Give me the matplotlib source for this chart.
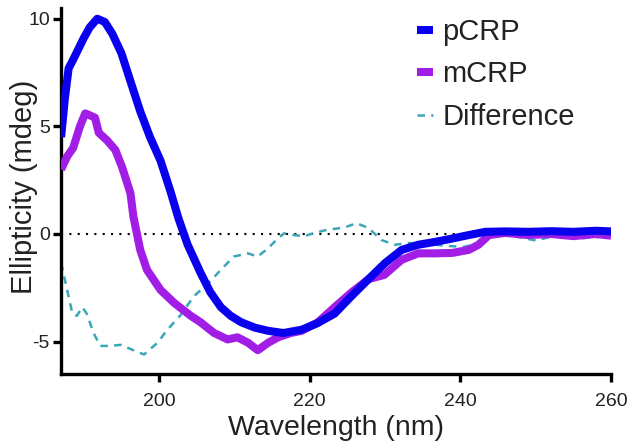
import matplotlib
matplotlib.use("Agg")
import matplotlib.pyplot as plt

plt.rcParams['font.family'] = ['Liberation Sans', 'DejaVu Sans']

# pCRP spectrum
pcrp_wl = [187, 187.5, 188, 188.6, 189.3, 190, 190.8, 191.8, 192.8, 193.8, 195, 196.2,
           197.5, 198.8, 200.2, 201.5, 202.6, 203.8, 205.5, 206.8, 208.2, 209.5, 210.9,
           212.7, 214.5, 216.5, 218.9, 221, 223.3, 225.5, 227.8, 230, 232.2, 234.4,
           236.6, 238.8, 241.1, 243.3, 246, 249, 252, 255, 258, 260]
pcrp_val = [4.5, 6.3, 7.7, 8.1, 8.6, 9.1, 9.6, 10.0, 9.85, 9.3, 8.4, 7.1,
            5.7, 4.5, 3.4, 2.0, 0.7, -0.5, -1.8, -2.7, -3.4, -3.8, -4.1,
            -4.35, -4.5, -4.6, -4.45, -4.15, -3.7, -2.9, -2.1, -1.35, -0.74, -0.5,
            -0.37, -0.22, -0.05, 0.1, 0.12, 0.1, 0.13, 0.1, 0.15, 0.12]

# mCRP spectrum
mcrp_wl = [187, 187.8, 188.6, 189.5, 190.2, 190.9, 191.5, 192, 193.1, 194.2, 195.1,
           196.2, 196.6, 197.5, 198.4, 200.2, 202, 204.2, 205.5, 207.3, 209.1, 210.4,
           211.8, 213.1, 214.5, 215.8, 217.5, 218.9, 221.1, 223.3, 225.6, 227.8, 229.9,
           232.2, 234.4, 236.6, 238.9, 241.1, 242.4, 243.8, 246, 249, 252, 255, 258, 260]
mcrp_val = [3.0, 3.6, 4.0, 5.0, 5.6, 5.5, 5.4, 4.7, 4.35, 3.9, 3.1,
            1.9, 0.8, -0.74, -1.67, -2.6, -3.2, -3.8, -4.1, -4.6, -4.9, -4.8,
            -5.05, -5.4, -5.05, -4.8, -4.6, -4.5, -4.1, -3.4, -2.7, -2.1, -1.9,
            -1.2, -0.9, -0.9, -0.88, -0.74, -0.5, -0.05, 0.05, -0.05, 0.0, -0.1, 0.0, -0.08]

# difference spectrum
diff_wl = [187, 187.8, 188.5, 189.1, 189.8, 190.4, 191.3, 192.2, 193.5, 194.9, 196.6,
           198, 199.8, 201.1, 202.9, 204.6, 206.5, 208.2, 209.9, 211.8, 213.1, 214.5,
           215.8, 216.6, 217.9, 219.3, 220.6, 222.4, 224.6, 226.2, 227.8, 229.5, 231.3,
           233.1, 235.5, 238, 240.5, 242.5, 244, 247, 250, 253, 256, 260]
diff_val = [-1.35, -2.6, -3.7, -3.8, -3.4, -3.7, -4.6, -5.2, -5.2, -5.15, -5.4,
            -5.6, -5.05, -4.45, -3.75, -2.9, -2.3, -1.67, -1.05, -0.9, -1.05, -0.65,
            -0.2, 0.03, -0.05, -0.1, 0.05, 0.2, 0.3, 0.5, 0.28, -0.28, -0.5,
            -0.42, -0.45, -0.55, -0.6, -0.4, -0.05, -0.1, -0.3, -0.05, -0.2, -0.1]

fig = plt.figure(figsize=(6.3, 4.43), dpi=100)
ax = fig.add_axes([0.097, 0.156, 0.873, 0.826])

ax.axhline(0, color='black', lw=1.5, ls=(0, (1, 3)), zorder=1)
ax.plot(diff_wl, diff_val, color='#3aa6b8', lw=1.8, ls=(0, (3, 2.5)), label='Difference', zorder=2)
ax.plot(mcrp_wl, mcrp_val, color='#a21ee6', lw=5.8, solid_joinstyle='round',
        solid_capstyle='butt', label='mCRP', zorder=3)
ax.plot(pcrp_wl, pcrp_val, color='#0a00ee', lw=5.8, solid_joinstyle='round',
        solid_capstyle='butt', label='pCRP', zorder=4)

ax.set_xlim(187, 260)
ax.set_ylim(-6.5, 10.5)
ax.set_xticks([200, 220, 240, 260])
ax.set_yticks([-5, 0, 5, 10])
ax.set_yticklabels(['-5', '0', '5', '10'])

for side in ('top', 'right'):
    ax.spines[side].set_visible(False)
for side in ('left', 'bottom'):
    ax.spines[side].set_linewidth(2.4)
ax.tick_params(width=2.4, length=6, labelsize=14, colors='black', labelcolor='#222222')
ax.tick_params(axis='x', pad=8)
ax.tick_params(axis='y', pad=2)

ax.set_xlabel('Wavelength (nm)', fontsize=20.5, color='#222222', labelpad=3)
ax.set_ylabel('Ellipticity (mdeg)', fontsize=21, color='#222222')
ax.yaxis.set_label_coords(-0.042, 0.51)

handles, labels = ax.get_legend_handles_labels()
order = [2, 1, 0]
leg = ax.legend([handles[i] for i in order], [labels[i] for i in order],
                loc='upper left', bbox_to_anchor=(0.60, 1.045), frameon=False,
                fontsize=21, handlelength=0.55, handletextpad=0.3, labelspacing=0.5)
for t in leg.get_texts():
    t.set_color('#222222')

fig.savefig('out.png', dpi=100)
